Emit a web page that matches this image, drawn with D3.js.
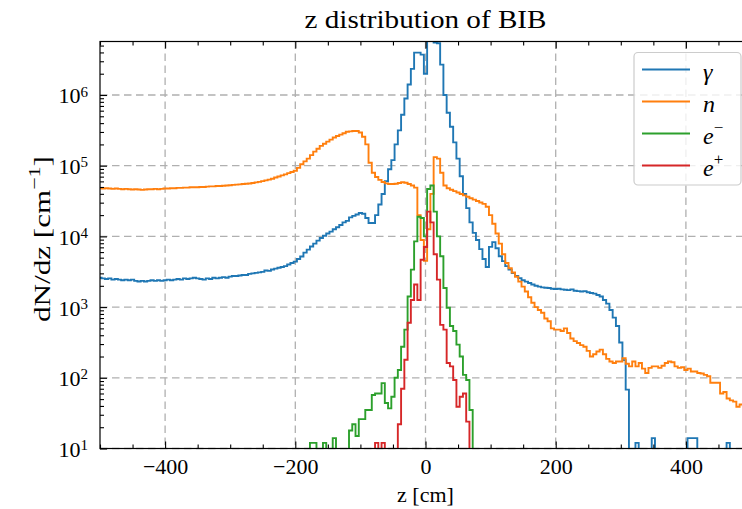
<!DOCTYPE html>
<html><head><meta charset="utf-8">
<script src="https://cdn.jsdelivr.net/npm/d3@7"></script>
<style>
body{margin:0;background:#fff}
text{font-family:"Liberation Serif","Times New Roman",serif;fill:#000}
</style>
</head><body>
<svg id="c" width="742" height="509"></svg>
<script>
// ---- data: histogram of z, 5 cm bins centred on -500,-495,...,500 ----
const binWidth = 5;
const firstCenter = -500;
const seriesNames = ["γ", "n", "e−", "e+"];
const seriesColors = ["#1f77b4", "#ff7f0e", "#2ca02c", "#d62728"];
const xTicks = [-400, -200, 0, 200, 400];
const yTicks = [1e1, 1e2, 1e3, 1e4, 1e5, 1e6];

const photon = [
 2600,2550,2500,2550,2450,2500,2450,2400,2450,2400,
 2450,2350,2300,2350,2300,2350,2400,2350,2400,2350,
 2400,2450,2400,2450,2500,2450,2550,2500,2550,2600,
 2550,2500,2450,2550,2500,2600,2550,2600,2650,2600,
 2700,2750,2750,2800,2850,2850,2950,3000,3050,3100,
 3150,3300,3250,3400,3500,3600,3700,3800,4000,4200,
 4400,4800,5200,5900,6500,7200,7900,8700,9500,10200,
 11000,11700,12600,13500,14500,15800,16600,18600,19500,20400,
 21400,20900,18200,15500,15500,20000,28200,39800,60300,89100,
 120000,200000,316000,525000,891000,1410000,2340000,3980000,3980000,3720000,
 2000000,8500000,8000000,5500000,5400000,2690000,1000000,562000,355000,214000,
 126000,70800,39800,25100,15800,11200,8900,6600,4800,3700,
 7100,8300,6800,5250,4470,3800,3390,3020,2750,2570,
 2400,2290,2190,2090,2000,1950,1900,1880,1860,1820,
 1800,1820,1780,1760,1740,1780,1700,1680,1660,1680,
 1620,1580,1550,1480,1410,1260,1120,910,710,540,
 316,178,68,0,0,12,0,0,0,0,
 14,0,0,0,0,0,0,0,0,0,
 0,14,14,14,0,0,0,0,0,0,
 0,0,0,12,0,0,0,0,0,0,
 0
];
const neutron = [
 48000,47500,48000,47500,47000,47500,47000,46500,47000,46500,
 46000,46500,46000,45500,46000,46500,46500,47000,46500,47000,
 47500,47500,48000,48000,48500,48500,49000,49000,49500,49500,
 49500,50000,50000,50500,51000,51000,51500,51500,52000,52500,
 53000,53500,54000,54500,55000,55500,56000,57000,58000,59000,
 60500,62000,63500,65500,68000,70500,73000,75500,78500,81500,
 85000,93300,105000,115000,126000,141000,158000,174000,191000,204000,
 219000,234000,251000,263000,275000,288000,302000,306000,310000,309000,
 295000,257000,200000,110000,79400,69200,63100,58900,56200,55000,
 55000,55600,56900,58200,57500,55000,52500,49000,20000,8900,
 4500,12600,40000,132000,126000,79400,52500,47900,45700,43700,
 41700,39800,38000,36300,34700,33100,31600,30200,28800,26300,
 20000,15100,11000,7900,5600,4200,3550,3090,2690,2290,
 1950,1660,1380,1150,1000,910,830,690,630,500,
 480,480,460,500,430,360,330,310,290,275,
 240,200,215,235,250,215,185,170,162,170,
 170,190,158,145,170,145,162,135,117,138,
 145,145,138,148,162,170,166,145,138,141,
 129,135,123,123,117,115,110,105,85,85,
 85,60,63,51,48,46,39,42,40,40,
 40
];
const electron = [
 0,0,0,0,0,0,0,0,0,0,
 0,0,0,0,0,0,0,0,0,0,
 0,0,0,0,0,0,0,0,0,0,
 0,0,0,0,0,0,0,0,0,0,
 0,0,0,0,0,0,0,0,0,0,
 0,0,0,0,0,0,0,0,0,0,
 0,0,0,0,0,12,12,0,0,12,
 0,0,14,0,0,0,0,18,22,15,
 26,26,35,35,57,60,60,84,44,37,
 54,100,129,275,480,1410,3390,8500,19000,18200,
 10000,46800,52500,22400,10000,5250,1860,980,540,460,
 295,200,110,93,35,0,0,0,0,0,
 0,0,0,0,0,0,0,0,0,0,
 0,0,0,0,0,0,0,0,0,0,
 0,0,0,0,0,0,0,0,0,0,
 0,0,0,0,0,0,0,0,0,0,
 0,0,0,0,0,0,0,0,0,0,
 0,0,0,0,0,0,0,0,0,0,
 0,0,0,0,0,0,0,0,0,0,
 0,0,0,0,0,0,0,0,0,0,
 0
];
const positron = [
 0,0,0,0,0,0,0,0,0,0,
 0,0,0,0,0,0,0,0,0,0,
 0,0,0,0,0,0,0,0,0,0,
 0,0,0,0,0,0,0,0,0,0,
 0,0,0,0,0,0,0,0,0,0,
 0,0,0,0,0,0,0,0,0,0,
 0,0,0,0,0,0,0,0,0,0,
 0,0,0,0,0,0,0,0,0,0,
 0,0,0,0,0,12,0,12,0,0,
 0,0,22,70,180,600,1260,2090,1260,4680,
 7080,22400,15800,5600,2450,560,480,162,145,93,
 39,54,60,24,0,0,0,0,0,0,
 0,0,0,0,0,0,0,0,0,0,
 0,0,0,0,0,0,0,0,0,0,
 0,0,0,0,0,0,0,0,0,0,
 0,0,0,0,0,0,0,0,0,0,
 0,0,0,0,0,0,0,0,0,0,
 0,0,0,0,0,0,0,0,0,0,
 0,0,0,0,0,0,0,0,0,0,
 0,0,0,0,0,0,0,0,0,0,
 0
];
const allSeries = [photon, neutron, electron, positron];

// ---- layout ----
const svg = d3.select("#c");
const L = 100, R = 751, T = 41.5, B = 448.5;
const x = d3.scaleLinear().domain([-500, 500]).range([L, R]);
const y = d3.scaleLog().domain([10, 5.71e6]).range([B, T]);
const FONT = 22;

svg.append("defs").append("clipPath").attr("id", "clip")
  .append("rect").attr("x", L).attr("y", T).attr("width", R - L).attr("height", B - T);

// grid
const grid = svg.append("g").attr("stroke", "#b0b0b0").attr("stroke-width", 1.3)
  .attr("stroke-dasharray", "7.5,4.5");
grid.selectAll("line.vx").data(xTicks).join("line")
  .attr("x1", d => x(d)).attr("x2", d => x(d)).attr("y1", T).attr("y2", B);
grid.selectAll("line.hy").data(yTicks).join("line")
  .attr("x1", L).attr("x2", R).attr("y1", d => y(d)).attr("y2", d => y(d));

// step histograms
const floorVal = 1e-2;
const lineGen = d3.line().x(d => x(d[0])).y(d => y(Math.max(d[1], floorVal)));
function stepPoints(vals) {
  const pts = [];
  const e0 = firstCenter - binWidth / 2;
  pts.push([e0, 0]);
  vals.forEach((v, i) => {
    const a = e0 + i * binWidth, b = a + binWidth;
    pts.push([a, v], [b, v]);
  });
  pts.push([e0 + vals.length * binWidth, 0]);
  return pts;
}
const plot = svg.append("g").attr("clip-path", "url(#clip)");
allSeries.forEach((vals, k) => {
  plot.append("path").attr("d", lineGen(stepPoints(vals)))
    .attr("fill", "none").attr("stroke", seriesColors[k])
    .attr("stroke-width", 1.9).attr("stroke-linejoin", "miter");
});

// axes
const xMinor = d3.range(-500, 501, 50).filter(v => !xTicks.includes(v));
const yMinor = [];
for (let e = 1; e <= 6; e++) for (let m = 2; m <= 9; m++) {
  const v = m * Math.pow(10, e);
  if (v <= 5.71e6) yMinor.push(v);
}
function styleAxis(g) {
  g.select(".domain").remove();
  g.selectAll(".tick line").attr("stroke", "#000").attr("stroke-width", 1.1);
  g.selectAll(".tick text").attr("font-size", FONT).attr("fill", "#000");
}
svg.append("g").attr("transform", `translate(0,${B})`)
  .call(d3.axisBottom(x).tickValues(xTicks).tickSizeInner(-7).tickSizeOuter(0).tickPadding(10))
  .call(styleAxis);
svg.append("g").attr("transform", `translate(0,${B})`)
  .call(d3.axisBottom(x).tickValues(xMinor).tickSizeInner(-4).tickSizeOuter(0).tickFormat(""))
  .call(styleAxis);
svg.append("g").attr("transform", `translate(0,${T})`)
  .call(d3.axisTop(x).tickValues(xTicks).tickSizeInner(-7).tickSizeOuter(0).tickFormat(""))
  .call(styleAxis);
svg.append("g").attr("transform", `translate(0,${T})`)
  .call(d3.axisTop(x).tickValues(xMinor).tickSizeInner(-4).tickSizeOuter(0).tickFormat(""))
  .call(styleAxis);

const yAxisG = svg.append("g").attr("transform", `translate(${L},0)`)
  .call(d3.axisLeft(y).tickValues(yTicks).tickSizeInner(-7).tickSizeOuter(0).tickPadding(12).tickFormat(""))
  .call(styleAxis);
yAxisG.selectAll(".tick text").each(function(d) {
  const t = d3.select(this).attr("dy", "0.36em");
  t.append("tspan").text("10");
  t.append("tspan").attr("dy", "-0.45em").attr("font-size", 15).text(String(Math.round(Math.log10(d))));
});
svg.append("g").attr("transform", `translate(${L},0)`)
  .call(d3.axisLeft(y).tickValues(yMinor).tickSizeInner(-4).tickSizeOuter(0).tickFormat(""))
  .call(styleAxis);
svg.append("g").attr("transform", `translate(${R},0)`)
  .call(d3.axisRight(y).tickValues(yTicks).tickSizeInner(-7).tickSizeOuter(0).tickFormat(""))
  .call(styleAxis);

// spines
svg.append("rect").attr("x", L).attr("y", T).attr("width", R - L).attr("height", B - T)
  .attr("fill", "none").attr("stroke", "#000").attr("stroke-width", 1.2);

// title and labels
svg.append("text").attr("x", (L + R) / 2).attr("y", 28).attr("text-anchor", "middle")
  .attr("font-size", 26).attr("textLength", 242).attr("lengthAdjust", "spacingAndGlyphs")
  .text("z distribution of BIB");
svg.append("text").attr("x", (L + R) / 2).attr("y", 502).attr("text-anchor", "middle")
  .attr("font-size", FONT).text("z [cm]");
const yl = svg.append("text").attr("transform", `translate(50,239) rotate(-90)`)
  .attr("text-anchor", "middle").attr("font-size", 24)
  .attr("textLength", 166).attr("lengthAdjust", "spacingAndGlyphs");
yl.append("tspan").text("dN/dz [cm");
yl.append("tspan").attr("dy", -10).attr("font-size", 17).text("−1");
yl.append("tspan").attr("dy", 10).text("]");

// legend
const lg = svg.append("g");
lg.append("rect").attr("x", 634).attr("y", 52.5).attr("width", 107).attr("height", 132.5)
  .attr("rx", 4).attr("fill", "#fff").attr("fill-opacity", 0.8)
  .attr("stroke", "#cccccc").attr("stroke-width", 1.2);
const rowY = [69.5, 101.5, 133.5, 165.5];
seriesNames.forEach((name, k) => {
  lg.append("line").attr("x1", 642).attr("x2", 690).attr("y1", rowY[k]).attr("y2", rowY[k])
    .attr("stroke", seriesColors[k]).attr("stroke-width", 1.9);
  const t = lg.append("text").attr("x", 703).attr("y", rowY[k] + 10).attr("font-size", 24);
  if (name.startsWith("e")) {
    t.append("tspan").attr("font-style", "italic").text("e");
    t.append("tspan").attr("dy", -11).attr("font-size", 17).text(name.slice(1));
  } else {
    t.append("tspan").attr("font-style", "italic").text(name);
  }
});
</script>
</body></html>
